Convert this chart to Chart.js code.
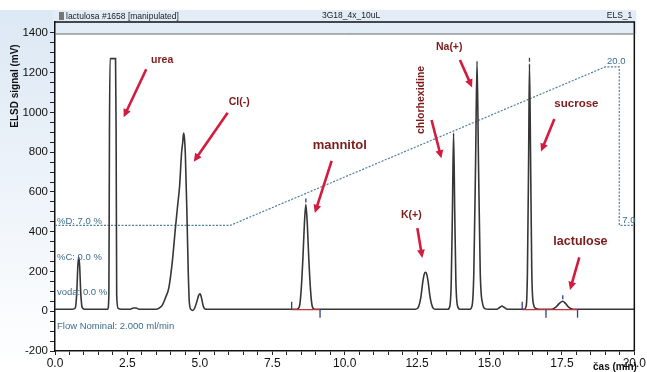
<!DOCTYPE html>
<html>
<head>
<meta charset="utf-8">
<script src="https://cdn.jsdelivr.net/npm/chart.js@4.4.1/dist/chart.umd.min.js"></script>
<style>
  html, body { margin: 0; padding: 0; background: #fff; }
</style>
</head>
<body>
<canvas id="myChart" width="647" height="372"></canvas>
<script>
// ELSD trace (time in min, signal in mV)
const traceTime = [0.00,0.60,0.70,0.75,0.79,0.82,0.85,0.89,0.94,1.02,
  1.82,1.86,1.88,1.90,2.09,2.11,2.13,2.18,2.30,
  2.60,2.70,2.80,2.90,
  3.50,3.62,3.72,3.82,3.93,4.05,4.16,4.24,4.30,4.37,4.41,4.44,4.47,4.50,4.56,4.60,4.64,4.70,4.75,4.82,4.90,4.96,5.01,5.06,5.12,5.20,
  8.35,8.44,8.50,8.56,8.61,8.66,8.71,8.76,8.82,8.88,8.96,
  12.45,12.55,12.63,12.70,12.75,12.79,12.83,12.88,12.95,13.03,13.12,
  13.56,13.63,13.68,13.72,13.76,13.80,13.84,13.90,13.98,
  14.32,14.40,14.46,14.52,14.57,14.62,14.68,14.76,14.86,14.95,
  15.25,15.36,15.43,15.50,15.62,
  16.20,16.27,16.31,16.35,16.38,16.42,16.46,16.52,16.60,16.70,
  17.15,17.30,17.43,17.53,17.63,17.75,17.90,20.00];
const traceSignal = [10,10,16,90,230,272,230,90,18,10,
  10,80,900,1271,1271,900,80,14,10,
  10,16,16,10,
  10,18,35,70,118,250,423,540,626,797,850,897,870,790,457,200,40,8,4,15,50,80,88,65,25,10,
  10,25,110,270,440,537,440,270,110,25,10,
  10,22,70,150,188,196,188,150,70,22,10,
  10,25,150,500,897,500,150,25,10,
  10,28,200,750,1259,750,200,40,12,10,
  10,20,26,20,10,
  10,28,200,750,1245,750,200,35,14,10,
  10,22,42,50,38,18,10,10];

// gradient program %D
const gradTime = [0, 6.05, 18.99, 19.48, 19.48, 20];
const gradPct = [7, 7, 20, 20, 7, 7];

// integration baselines and markers
const baseFrom = [8.17, 16.13];
const baseTo = [9.15, 18.04];
const baseLevel = 8;
const markTime = [8.17, 9.15, 16.13, 16.95, 18.04];
const markSide = [1, -1, 1, -1, -1];
const apexTime = [8.66, 16.38, 17.53];
const apexSignal = [537, 1245, 50];

const peakNames = ['urea', 'Cl(-)', 'mannitol', 'chlorhexidine', 'Na(+)', 'K(+)', 'sucrose', 'lactulose'];
const infoLines = ['%D: 7.0 %', '%C: 0.0 %', 'voda: 0.0 %', 'Flow Nominal: 2.000 ml/min'];

// where the peak labels and arrows go (time, mV)
const notes = [
  { t: 3.70, v: 1265, size: 10.5, a: [3.15, 1217, 2.37, 976] },
  { t: 6.36, v: 1053, size: 10.5, a: [5.96, 999, 4.79, 752] },
  { t: 9.83, v: 836, size: 13, a: [9.55, 756, 8.97, 494] },
  { t: 12.65, v: 1063, size: 10.5, rot: true, a: [13.0, 962, 13.34, 769] },
  { t: 13.61, v: 1328, size: 10.5, a: [13.98, 1264, 14.40, 1126] },
  { t: 12.30, v: 484, size: 10.5, a: [12.51, 418, 12.68, 268] },
  { t: 18.00, v: 1042, size: 11.5, a: [17.24, 967, 16.78, 803] },
  { t: 18.14, v: 353, size: 12.5, a: [18.10, 271, 17.78, 107] }
];
const infoSignal = [454, 272, 95, -74];

const FONT = '"Liberation Sans", Arial, sans-serif';

const trace = traceTime.map((t, i) => ({ x: t, y: traceSignal[i] }));
const grad = gradTime.map((t, i) => ({ x: t, y: gradPct[i] }));

function arrow(c, x1, y1, x2, y2) {
  const ang = Math.atan2(y2 - y1, x2 - x1), h = 9;
  c.beginPath();
  c.moveTo(x1, y1);
  c.lineTo(x2 - Math.cos(ang) * h * 0.7, y2 - Math.sin(ang) * h * 0.7);
  c.stroke();
  c.beginPath();
  c.moveTo(x2, y2);
  c.lineTo(x2 - h * Math.cos(ang - 0.45), y2 - h * Math.sin(ang - 0.45));
  c.lineTo(x2 - h * Math.cos(ang + 0.45), y2 - h * Math.sin(ang + 0.45));
  c.closePath();
  c.fill();
}

const decor = {
  id: 'decor',
  beforeDraw(chart) {
    const c = chart.ctx, a = chart.chartArea;
    c.save();
    const g = c.createLinearGradient(0, 10, 0, 372);
    g.addColorStop(0, '#dce8f4');
    g.addColorStop(1, '#ffffff');
    c.fillStyle = g;
    c.fillRect(0, 10, a.left, 362);
    c.fillStyle = '#e3edf7';
    c.fillRect(a.left - 2, 10, a.right - a.left + 4, a.top + 12 - 10);
    c.restore();
  },
  afterDatasetsDraw(chart) {
    const c = chart.ctx, a = chart.chartArea;
    const xs = chart.scales.x, ys = chart.scales.y, y2 = chart.scales.y2;
    c.save();
    // frame
    c.strokeStyle = '#111';
    c.lineWidth = 1.5;
    c.beginPath();
    c.moveTo(a.left, a.top); c.lineTo(a.right, a.top); c.lineTo(a.right, a.bottom);
    c.stroke();
    c.lineWidth = 1;
    c.strokeStyle = '#666';
    c.beginPath();
    c.moveTo(a.left, a.top + 12); c.lineTo(a.right, a.top + 12);
    c.stroke();

    // header
    c.fillStyle = '#777';
    c.fillRect(a.left + 4, 12, 5, 8);
    c.fillStyle = '#222';
    c.font = '8.5px ' + FONT;
    c.textBaseline = 'middle';
    c.textAlign = 'left';
    c.fillText('lactulosa #1658 [manipulated]', a.left + 11, 16.5);
    c.fillText('3G18_4x_10uL', 322, 16);
    c.textAlign = 'right';
    c.fillText('ELS_1', a.right - 2, 16);

    // axis titles
    c.fillStyle = '#111';
    c.font = 'bold 10px ' + FONT;
    c.save();
    c.translate(15, 86);
    c.rotate(-Math.PI / 2);
    c.textAlign = 'center';
    c.fillText('ELSD signal (mV)', 0, 0);
    c.restore();
    c.textAlign = 'center';
    c.fillText('čas (min)', 615, 367);

    // info lines
    c.fillStyle = '#3b6d8f';
    c.font = '9.5px ' + FONT;
    c.textAlign = 'left';
    infoLines.forEach((s, i) => c.fillText(s, a.left + 2, ys.getPixelForValue(infoSignal[i])));

    // gradient labels
    c.fillText('20.0', xs.getPixelForValue(gradTime[2]) + 2, y2.getPixelForValue(gradPct[2]) - 6);
    c.fillText('7.0', xs.getPixelForValue(gradTime[3]) + 3, y2.getPixelForValue(gradPct[4]) - 5);

    // integration markers
    c.strokeStyle = '#2b3f90';
    c.lineWidth = 1.3;
    const yb = ys.getPixelForValue(baseLevel);
    markTime.forEach((t, i) => {
      const px = xs.getPixelForValue(t);
      c.beginPath();
      c.moveTo(px, yb);
      c.lineTo(px, yb - 8 * markSide[i]);
      c.stroke();
    });
    apexTime.forEach((t, i) => {
      const px = xs.getPixelForValue(t), py = ys.getPixelForValue(apexSignal[i]);
      c.beginPath();
      c.moveTo(px, py - 2);
      c.lineTo(px, py - 6);
      c.stroke();
    });

    // peak labels and arrows
    notes.forEach((n, i) => {
      c.fillStyle = '#7d1a1a';
      c.font = 'bold ' + n.size + 'px ' + FONT;
      c.textAlign = 'center';
      const px = xs.getPixelForValue(n.t), py = ys.getPixelForValue(n.v);
      if (n.rot) {
        c.save();
        c.translate(px, py);
        c.rotate(-Math.PI / 2);
        c.fillText(peakNames[i], 0, 0);
        c.restore();
      } else {
        c.fillText(peakNames[i], px, py);
      }
      c.strokeStyle = '#d31b3f';
      c.fillStyle = '#d31b3f';
      c.lineWidth = 2.6;
      arrow(c, xs.getPixelForValue(n.a[0]), ys.getPixelForValue(n.a[1]),
               xs.getPixelForValue(n.a[2]), ys.getPixelForValue(n.a[3]));
    });
    c.restore();
  }
};

const datasets = [
  {
    label: 'ELSD_1',
    data: trace,
    yAxisID: 'y',
    borderColor: '#363636',
    borderWidth: 1.6,
    pointRadius: 0,
    cubicInterpolationMode: 'monotone',
    order: 1
  },
  {
    label: '%D',
    data: grad,
    yAxisID: 'y2',
    borderColor: '#4f7f9f',
    borderWidth: 1.2,
    borderDash: [2, 1.5],
    pointRadius: 0,
    tension: 0,
    order: 2
  }
];
baseFrom.forEach((t, i) => {
  datasets.push({
    label: 'base' + i,
    data: [{ x: t, y: baseLevel }, { x: baseTo[i], y: baseLevel }],
    yAxisID: 'y',
    borderColor: '#c8323a',
    borderWidth: 1.3,
    pointRadius: 0,
    order: 0
  });
});

const ctx = document.getElementById('myChart').getContext('2d');
const myChart = new Chart(ctx, {
  type: 'line',
  data: { datasets: datasets },
  options: {
    responsive: false,
    animation: false,
    layout: { padding: { top: 22, right: 10, left: 0, bottom: 0 } },
    plugins: { legend: { display: false }, tooltip: { enabled: false } },
    scales: {
      x: {
        type: 'linear',
        min: 0,
        max: 20,
        afterFit: s => { s.height = 21; },
        border: { display: true, color: '#111', width: 1.5 },
        grid: { drawOnChartArea: false, drawTicks: true, tickLength: 4, tickColor: '#222' },
        ticks: {
          stepSize: 0.5,
          autoSkip: false,
          maxRotation: 0,
          padding: 1,
          color: '#111',
          font: { family: FONT, size: 12 },
          callback: v => (v % 2.5 === 0 ? v.toFixed(1) : '')
        }
      },
      y: {
        min: -200,
        max: 1455,
        afterFit: s => { s.width = 55; },
        afterBuildTicks: s => { s.ticks = s.ticks.filter(t => t.value % 50 === 0); },
        border: { display: true, color: '#111', width: 1.5 },
        grid: { drawOnChartArea: false, drawTicks: true, tickLength: 5, tickColor: '#222' },
        ticks: {
          stepSize: 50,
          autoSkip: false,
          padding: 2,
          color: '#111',
          font: { family: FONT, size: 11.5 },
          callback: v => (v % 200 === 0 ? String(v) : '')
        }
      },
      y2: {
        display: false,
        min: -3.31,
        max: 23.69
      }
    }
  },
  plugins: [decor]
});
</script>
</body>
</html>
